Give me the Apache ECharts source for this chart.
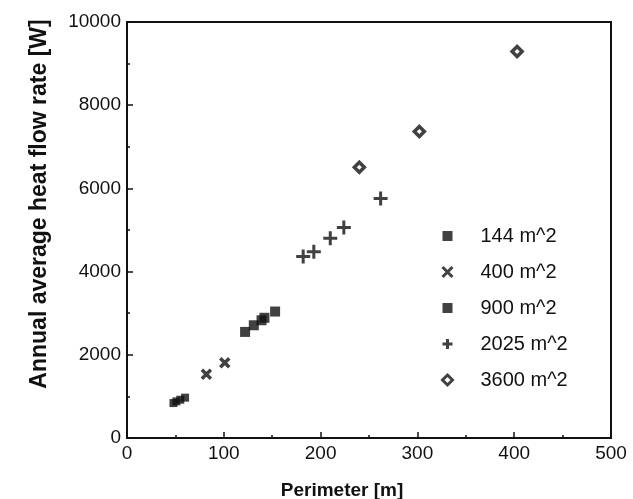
<!DOCTYPE html>
<html>
<head>
<meta charset="utf-8">
<script src="https://cdn.jsdelivr.net/npm/echarts@6/dist/echarts.min.js"></script>
<style>
  html, body { margin: 0; padding: 0; background: #fff; }
  #chart { width: 633px; height: 499px; }
</style>
</head>
<body>
<div id="chart"></div>
<script>
  // perimeter [m], heat flow rate [W]
  var area144 = [[48, 840], [51, 880], [55, 920], [60, 970]];
  var area400 = [[82, 1530], [101, 1810]];
  var area900 = [[122, 2550], [131, 2710], [139, 2830], [142, 2890], [153, 3040]];
  var area2025 = [[182, 4360], [193, 4480], [210, 4800], [224, 5060], [262, 5760]];
  var area3600 = [[240, 6510], [302, 7370], [403, 9290]];

  var seriesNames = ['144 m^2', '400 m^2', '900 m^2', '2025 m^2', '3600 m^2'];
  var xTicks = [0, 100, 200, 300, 400, 500];
  var yTicks = [0, 2000, 4000, 6000, 8000, 10000];

  var ink = '#111';
  var font = 'Liberation Sans, Arial, Helvetica, sans-serif';

  var squarePath = 'path://M0,0L10,0L10,10L0,10Z';
  var crossPath = 'path://M0,0L10,10M10,0L0,10';
  var plusPath = 'path://M5,0L5,10M0,5L10,5';
  var diamondPath = 'path://M5,0L10,5L5,10L0,5Z';

  var chart = echarts.init(document.getElementById('chart'));

  chart.setOption({
    animation: false,
    grid: {
      left: 127,
      right: 22,
      top: 22,
      bottom: 61,
      show: true,
      borderColor: ink,
      borderWidth: 2,
      outerBoundsMode: 'none'
    },
    legend: {
      orient: 'vertical',
      left: 440,
      top: 226,
      padding: 0,
      itemWidth: 56,
      itemHeight: 10,
      itemGap: 16,
      textStyle: {
        color: ink,
        fontFamily: font,
        fontSize: 20,
        lineHeight: 20
      },
      data: [
        { name: seriesNames[0], icon: squarePath },
        { name: seriesNames[1], icon: crossPath, itemStyle: { borderWidth: 3 } },
        { name: seriesNames[2], icon: squarePath },
        { name: seriesNames[3], icon: plusPath, itemStyle: { borderWidth: 3 } },
        { name: seriesNames[4], icon: diamondPath, itemStyle: { borderWidth: 3 } }
      ]
    },
    xAxis: {
      type: 'value',
      min: xTicks[0],
      max: xTicks[xTicks.length - 1],
      interval: 100,
      name: 'Perimeter [m]',
      nameLocation: 'middle',
      nameGap: 43,
      nameTextStyle: { color: ink, fontFamily: font, fontSize: 19, fontWeight: 'bold', padding: [0, 54, 0, 0] },
      axisLine: { lineStyle: { color: ink, width: 2 } },
      axisTick: { inside: true, length: 6, lineStyle: { color: ink, width: 1.5 } },
      minorTick: { show: true, splitNumber: 2, length: 3, lineStyle: { color: ink, width: 1.5 } },
      axisLabel: { color: ink, fontFamily: font, fontSize: 19, margin: 6, formatter: function (v) { return String(v); } },
      splitLine: { show: false }
    },
    yAxis: {
      type: 'value',
      min: yTicks[0],
      max: yTicks[yTicks.length - 1],
      interval: 2000,
      name: 'Annual average heat flow rate [W]',
      nameLocation: 'middle',
      nameGap: 76,
      nameTextStyle: { color: ink, fontFamily: font, fontSize: 23, fontWeight: 'bold', padding: [0, 0, 0, 52] },
      axisLine: { lineStyle: { color: ink, width: 2 } },
      axisTick: { inside: true, length: 6, lineStyle: { color: ink, width: 1.5 } },
      minorTick: { show: true, splitNumber: 2, length: 3, lineStyle: { color: ink, width: 1.5 } },
      axisLabel: { color: ink, fontFamily: font, fontSize: 19, margin: 6, formatter: function (v) { return String(v); } },
      splitLine: { show: false }
    },
    series: [
      {
        name: seriesNames[0],
        type: 'scatter',
        data: area144,
        symbol: squarePath,
        symbolSize: 8,
        itemStyle: { color: ink }
      },
      {
        name: seriesNames[1],
        type: 'scatter',
        data: area400,
        symbol: crossPath,
        symbolSize: 9,
        itemStyle: { color: 'none', borderColor: ink, borderWidth: 3.5 }
      },
      {
        name: seriesNames[2],
        type: 'scatter',
        data: area900,
        symbol: squarePath,
        symbolSize: 10,
        itemStyle: { color: ink }
      },
      {
        name: seriesNames[3],
        type: 'scatter',
        data: area2025,
        symbol: plusPath,
        symbolSize: 14,
        itemStyle: { color: 'none', borderColor: ink, borderWidth: 3 }
      },
      {
        name: seriesNames[4],
        type: 'scatter',
        data: area3600,
        symbol: diamondPath,
        symbolSize: 10,
        itemStyle: { color: '#fff', borderColor: ink, borderWidth: 3.5 }
      }
    ]
  });
</script>
</body>
</html>
